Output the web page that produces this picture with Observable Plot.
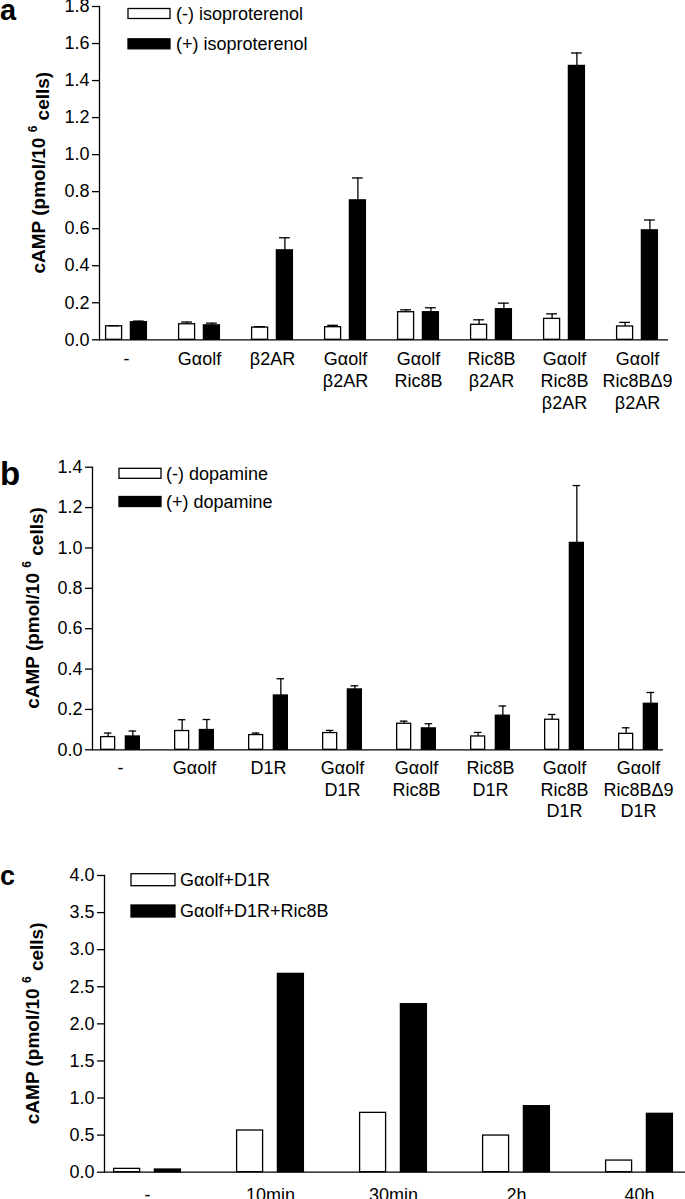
<!DOCTYPE html>
<html>
<head>
<meta charset="utf-8">
<script src="https://cdn.jsdelivr.net/npm/d3@7"></script>
<script src="https://cdn.jsdelivr.net/npm/@observablehq/plot@0.6"></script>
<style>
  html, body { margin: 0; padding: 0; background: #fff; }
  #root { width: 685px; height: 1199px; overflow: hidden; }
  #root svg { display: block; }
</style>
</head>
<body>
<div id="root"></div>
<script>
// ---------- Panel a: isoproterenol ----------
const groupsA = ["-", "Gαolf", "β2AR", "Gαolf\nβ2AR", "Gαolf\nRic8B", "Ric8B\nβ2AR", "Gαolf\nRic8B\nβ2AR", "Gαolf\nRic8BΔ9\nβ2AR"];
const minusA    = [0.073, 0.084, 0.066, 0.068, 0.149, 0.081, 0.113, 0.072];
const minusSemA = [0.003, 0.012, 0.005, 0.010, 0.013, 0.027, 0.027, 0.022];
const plusA     = [0.095, 0.078, 0.483, 0.753, 0.149, 0.165, 1.479, 0.591];
const plusSemA  = [0.006, 0.012, 0.068, 0.121, 0.024, 0.033, 0.070, 0.056];
const legendA   = ["(-) isoproterenol", "(+) isoproterenol"];
const yTicksA   = [0, 0.2, 0.4, 0.6, 0.8, 1.0, 1.2, 1.4, 1.6, 1.8];

// ---------- Panel b: dopamine ----------
const groupsB = ["-", "Gαolf", "D1R", "Gαolf\nD1R", "Gαolf\nRic8B", "Ric8B\nD1R", "Gαolf\nRic8B\nD1R", "Gαolf\nRic8BΔ9\nD1R"];
const minusB    = [0.063, 0.093, 0.073, 0.083, 0.129, 0.066, 0.149, 0.079];
const minusSemB = [0.020, 0.056, 0.010, 0.013, 0.013, 0.020, 0.026, 0.030];
const plusB     = [0.066, 0.098, 0.269, 0.299, 0.106, 0.169, 1.025, 0.228];
const plusSemB  = [0.027, 0.052, 0.083, 0.018, 0.023, 0.048, 0.284, 0.056];
const legendB   = ["(-) dopamine", "(+) dopamine"];
const yTicksB   = [0, 0.2, 0.4, 0.6, 0.8, 1.0, 1.2, 1.4];

// ---------- Panel c: time course ----------
const groupsC = ["-", "10min", "30min", "2h", "40h"];
const minusC  = [0.045, 0.562, 0.800, 0.494, 0.157];
const plusC   = [0.036, 2.674, 2.265, 0.890, 0.787];
const legendC = ["Gαolf+D1R", "Gαolf+D1R+Ric8B"];
const yTicksC = [0, 0.5, 1.0, 1.5, 2.0, 2.5, 3.0, 3.5, 4.0];

const FONT = "'Liberation Sans', Arial, Helvetica, sans-serif";
const SW = 1.3;

function rows(groups, minus, plus, minusSem, plusSem) {
  return groups.map((g, i) => ({
    group: g,
    minus: minus[i], plus: plus[i],
    minusSem: minusSem ? minusSem[i] : null,
    plusSem: plusSem ? plusSem[i] : null
  }));
}

function panel(cfg) {
  const data = rows(cfg.groups, cfg.minus, cfg.plus, cfg.minusSem, cfg.plusSem);
  const marks = [
    Plot.barY(data, {x: "group", y: "minus", fill: "white", stroke: "black", strokeWidth: SW, dx: -cfg.off}),
    Plot.barY(data, {x: "group", y: "plus", fill: "black", stroke: "black", strokeWidth: SW, dx: cfg.off})
  ];
  if (cfg.minusSem) {
    const ci = cfg.capInset;
    marks.push(
      Plot.ruleX(data, {x: "group", y1: "minus", y2: d => d.minus + d.minusSem, dx: -cfg.off, strokeWidth: SW}),
      Plot.tickY(data, {x: "group", y: d => d.minus + d.minusSem, dx: -cfg.off, insetLeft: ci, insetRight: ci, strokeWidth: SW}),
      Plot.ruleX(data, {x: "group", y1: "plus", y2: d => d.plus + d.plusSem, dx: cfg.off, strokeWidth: SW}),
      Plot.tickY(data, {x: "group", y: d => d.plus + d.plusSem, dx: cfg.off, insetLeft: ci, insetRight: ci, strokeWidth: SW})
    );
  }
  marks.push(
    Plot.ruleY([0], {strokeWidth: SW}),
    Plot.frame({anchor: "left", strokeWidth: SW}),
    Plot.axisY({ticks: cfg.yTicks, tickFormat: d3.format(".1f"), tickSize: 7, tickPadding: 3, strokeWidth: SW, label: null}),
    Plot.axisX({tickSize: 0, tickPadding: cfg.xPad, lineHeight: cfg.lineHeight, label: null})
  );
  const svg = Plot.plot({
    width: 685,
    height: cfg.height,
    marginLeft: cfg.marginLeft,
    marginRight: cfg.marginRight,
    marginTop: cfg.marginTop,
    marginBottom: cfg.marginBottom,
    style: {fontFamily: FONT, fontSize: "18px", color: "black", background: "white", overflow: "visible"},
    x: {domain: cfg.groups, paddingInner: cfg.pi, paddingOuter: cfg.po, align: cfg.align, label: null},
    y: {domain: cfg.yDomain, label: null},
    marks
  });

  const s = d3.select(svg);
  // rotated y-axis title with superscript
  const yr = svg.scale("y").range;
  const ymid = (yr[0] + yr[1]) / 2;
  const t = s.append("text")
    .attr("transform", `translate(${cfg.yLabelX},${ymid}) rotate(-90)`)
    .attr("text-anchor", "middle")
    .attr("font-family", FONT)
    .attr("font-weight", "bold")
    .attr("font-size", 19)
    .attr("fill", "black");
  t.append("tspan").attr("dy", "0.35em").text("cAMP (pmol/10 ");
  t.append("tspan").attr("font-size", 12).attr("dy", "-0.6em").text("6");
  t.append("tspan").attr("dy", "0.6em").attr("font-size", 19).text(" cells)");

  // panel letter
  s.append("text")
    .attr("x", 0).attr("y", cfg.letterY)
    .attr("text-anchor", "start")
    .attr("font-family", FONT).attr("font-weight", "bold")
    .attr("font-size", cfg.letterSize).attr("fill", "black")
    .text(cfg.letter);

  // legend
  const L = cfg.legend;
  cfg.legendLabels.forEach((lab, i) => {
    s.append("rect")
      .attr("x", L.x).attr("y", L.ys[i] - L.h / 2)
      .attr("width", L.w).attr("height", L.h)
      .attr("fill", i === 0 ? "white" : "black")
      .attr("stroke", "black").attr("stroke-width", SW);
    s.append("text")
      .attr("x", L.tx).attr("y", L.ys[i]).attr("dy", "0.35em")
      .attr("text-anchor", "start")
      .attr("font-family", FONT).attr("font-size", 18).attr("fill", "black")
      .text(lab);
  });
  return svg;
}

const root = document.getElementById("root");

root.appendChild(panel({
  groups: groupsA, minus: minusA, plus: plusA, minusSem: minusSemA, plusSem: plusSemA,
  yTicks: yTicksA, yDomain: [0, 1.8],
  height: 415, marginLeft: 99, marginRight: 17, marginTop: 6, marginBottom: 75.7,
  pi: 0.787, po: 0.2485, align: 0.454, off: 12.4, capInset: 2.6,
  xPad: 9, lineHeight: 1.24, yLabelX: 38,
  letter: "a", letterY: 20, letterSize: 29,
  legendLabels: legendA,
  legend: {x: 128, w: 42, h: 10, tx: 176, ys: [13.5, 43.8]}
}));

root.appendChild(panel({
  groups: groupsB, minus: minusB, plus: plusB, minusSem: minusSemB, plusSem: plusSemB,
  yTicks: yTicksB, yDomain: [0, 1.4],
  height: 415, marginLeft: 92, marginRight: 22, marginTop: 51.7, marginBottom: 80.7,
  pi: 0.805, po: 0.24, align: 0.534, off: 12.35, capInset: 3.2,
  xPad: 9, lineHeight: 1.2, yLabelX: 32,
  letter: "b", letterY: 70, letterSize: 33,
  legendLabels: legendB,
  legend: {x: 119, w: 42, h: 10, tx: 166, ys: [58.3, 86.5]}
}));

root.appendChild(panel({
  groups: groupsC, minus: minusC, plus: plusC,
  yTicks: yTicksC, yDomain: [0, 4],
  height: 369, marginLeft: 104, marginRight: 0, marginTop: 45, marginBottom: 27.3,
  pi: 0.785, po: 0.2485, align: 0.48, off: 20.4, capInset: 0,
  xPad: 13, lineHeight: 1.2, yLabelX: 32,
  letter: "c", letterY: 55, letterSize: 27,
  legendLabels: legendC,
  legend: {x: 131, w: 44, h: 12, tx: 180, ys: [49.7, 81]}
}));
</script>
</body>
</html>
